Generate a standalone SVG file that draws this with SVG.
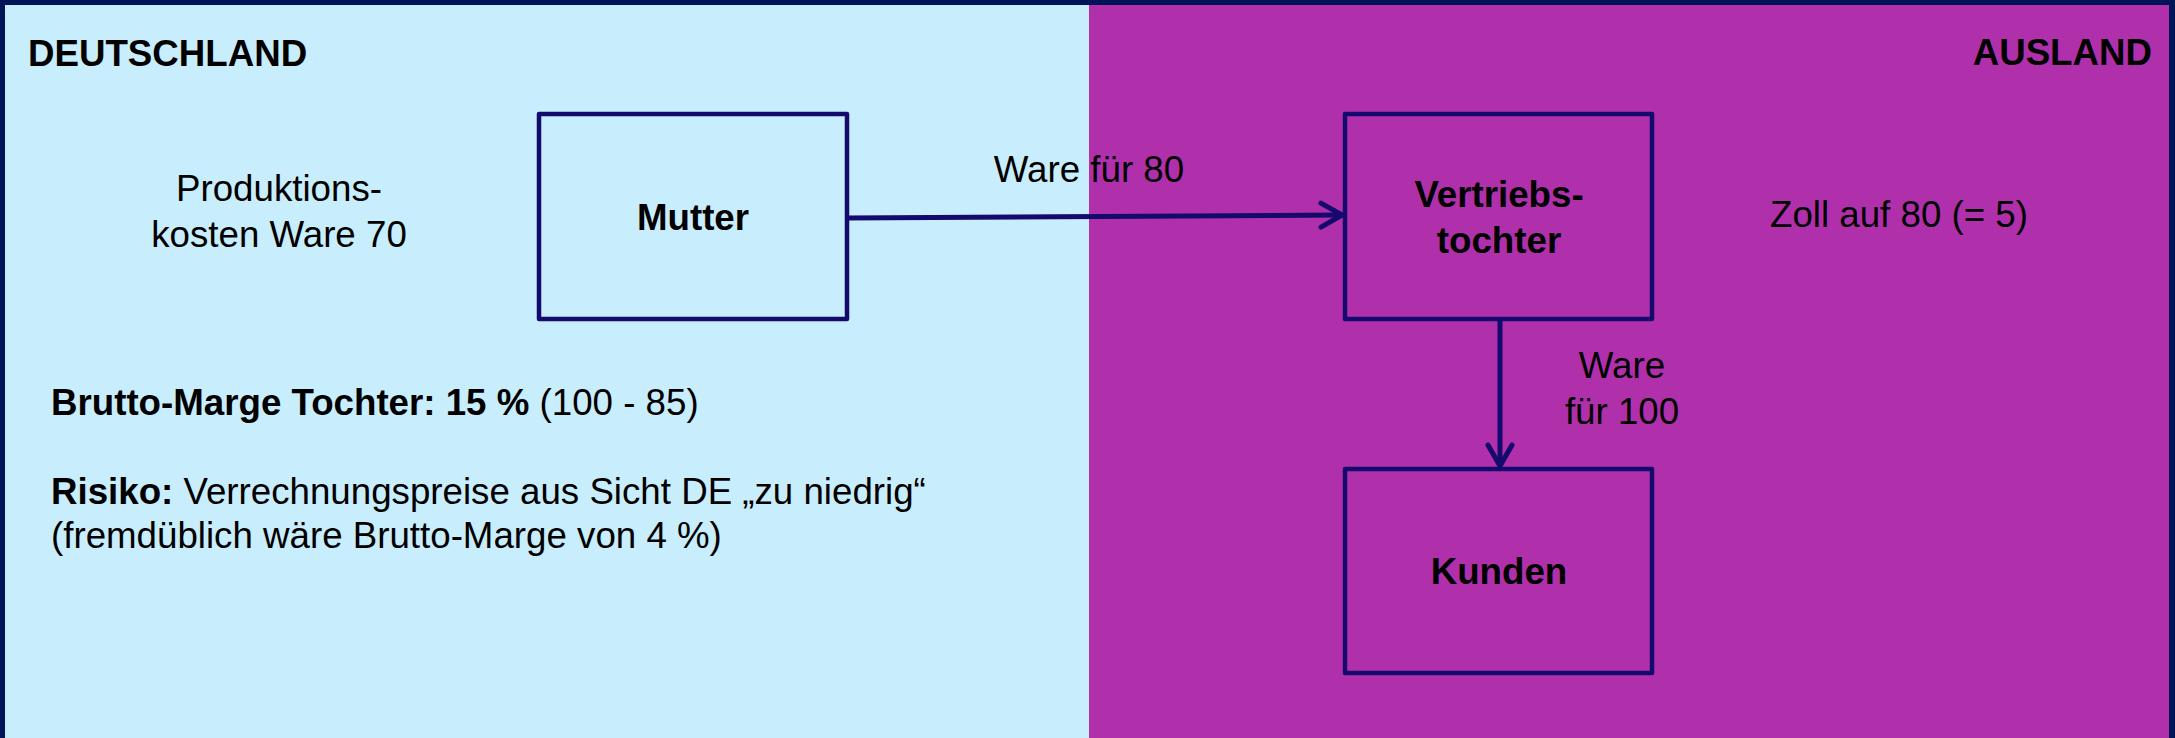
<svg xmlns="http://www.w3.org/2000/svg" width="2175" height="738" viewBox="0 0 2175 738">
<style>
text{font-family:"Liberation Sans",Arial,sans-serif;font-size:36.7px;fill:#000}
.b{font-weight:bold}
.m{text-anchor:middle}
.box{stroke:#140A6E;stroke-width:4.5;stroke-linejoin:round}
.conn{stroke:#140A6E;stroke-width:5;fill:none}
</style>
<defs>
<marker id="arr" markerUnits="userSpaceOnUse" markerWidth="30" markerHeight="30" refX="23" refY="15" orient="auto" overflow="visible">
<path d="M2,3 L23,15 L2,27" fill="none" stroke="#140A6E" stroke-width="5" stroke-linecap="round" stroke-linejoin="round"/>
</marker>
</defs>
<g id="background">
<rect x="0" y="0" width="1089" height="738" fill="#C8EDFC"/>
<rect x="1089" y="0" width="1086" height="738" fill="#B030AC"/>
<rect x="0" y="0" width="2175" height="5" fill="#001458"/>
<rect x="0" y="0" width="5" height="738" fill="#001458"/>
<rect x="2169" y="0" width="6" height="738" fill="#001458"/>
</g>
<g id="labels">
<text class="b" x="28" y="66">DEUTSCHLAND</text>
<text class="b" x="2152" y="65" text-anchor="end">AUSLAND</text>
<text class="m" x="279" y="201">Produktions-</text>
<text class="m" x="279" y="247">kosten Ware 70</text>
<text x="51" y="415"><tspan class="b">Brutto-Marge Tochter: 15 %</tspan> (100 - 85)</text>
<text x="51" y="504"><tspan class="b">Risiko:</tspan> Verrechnungspreise aus Sicht DE „zu niedrig“</text>
<text x="51" y="548">(fremdüblich wäre Brutto-Marge von 4 %)</text>
<text x="1770" y="227">Zoll auf 80 (= 5)</text>
</g>
<g id="connectors">
<line class="conn" x1="847" y1="218" x2="1342" y2="215" marker-end="url(#arr)"/>
<line class="conn" x1="1500" y1="319" x2="1500" y2="466" marker-end="url(#arr)"/>
<text class="m" x="1089" y="182">Ware für 80</text>
<text class="m" x="1622" y="378">Ware</text>
<text class="m" x="1622" y="424">für 100</text>
</g>
<g id="node-mutter">
<rect class="box" x="539" y="114" width="308" height="205" fill="none"/>
<text class="b m" x="693" y="230">Mutter</text>
</g>
<g id="node-vertriebstochter">
<rect class="box" x="1345" y="114" width="307" height="205" fill="none"/>
<text class="b m" x="1499" y="207">Vertriebs-</text>
<text class="b m" x="1499" y="253">tochter</text>
</g>
<g id="node-kunden">
<rect class="box" x="1345" y="469" width="307" height="204" fill="none"/>
<text class="b m" x="1499" y="584">Kunden</text>
</g>
</svg>
